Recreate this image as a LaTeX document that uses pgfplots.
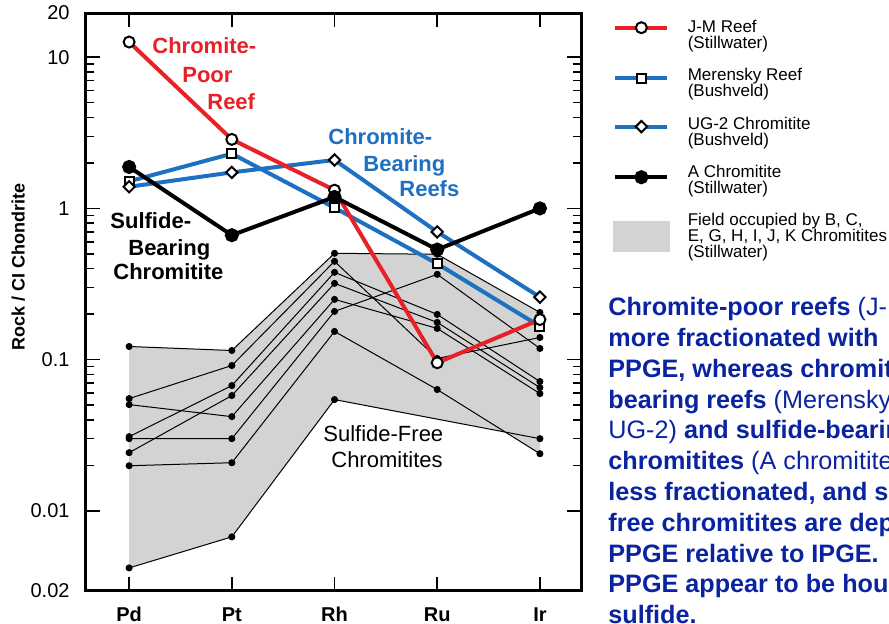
\documentclass[border=0pt]{standalone}
\usepackage{pgfplots}
\pgfplotsset{compat=1.18}
\usepackage{fontspec}
\setmainfont{Liberation Sans}

\definecolor{jmred}{RGB}{232,32,40}
\definecolor{bvblue}{RGB}{30,112,192}
\definecolor{fieldgray}{RGB}{211,211,211}
\definecolor{noteblue}{RGB}{10,35,160}

\pgfplotsset{
  legline/.style={legend image code/.code={%
    \draw[mark repeat=2,mark phase=2,##1] plot coordinates {(0pt,#1) (13pt,#1) (26pt,#1)};}},
  fieldline/.style={black, line width=0.5pt, mark=*, mark size=1.5pt, forget plot},
  openmark/.style={mark options={fill=white, draw=black, line width=1pt, solid}},
  opendiamond/.style={mark options={fill=white, draw=black, line width=1pt, solid, rotate=45}},
}

\begin{document}
\begin{tikzpicture}
\begin{axis}[
  scale only axis, width=247.5pt, height=289pt,
  ymode=log, ymin=0.00295, ymax=19.6,
  xmin=-0.42, xmax=4.4,
  xtick={0,1,2,3,4}, xticklabels={Pd,Pt,Rh,Ru,Ir},
  ytick={0.01,0.1,1,10}, yticklabels={0.01,0.1,1,10},
  extra y ticks={0.00295,19.6}, extra y tick labels={0.02,20},
  extra y tick style={major tick length=0pt},
  tick align=inside,
  major tick length=7pt, minor tick length=4pt,
  tick style={black, line width=0.75pt},
  axis line style={line width=1.5pt},
  x tick label style={font=\bfseries\fontsize{10}{12}\selectfont, yshift=-4.7pt},
  y tick label style={font=\fontsize{10}{12}\selectfont, xshift=-4.7pt},
  ylabel={Rock / CI Chondrite},
  ylabel style={font=\bfseries\fontsize{9}{11}\selectfont, at={(axis description cs:-0.137,0.56)}, anchor=center},
  clip=false,
  legend style={at={(1.0646,0.9943)}, anchor=north west, draw=none, fill=none,
    inner sep=0pt, outer sep=0pt, row sep=4.5pt, column sep=7pt,
    font=\fontsize{8.5}{8}\selectfont, cells={anchor=north west, align=left}},
]

% field of B, C, E, G, H, I, J, K chromitites
\addplot[fill=fieldgray, draw=none, forget plot] coordinates {
  (0,0.1221) (1,0.1149) (2,0.5049) (3,0.4972) (4,0.2051)
  (4,0.02386) (3.663,0.03318) (3,0.04040) (2,0.05440) (1,0.006727) (0,0.004192)};

\addplot[fieldline] coordinates {(0,0.1221) (1,0.1149) (2,0.5049) (3,0.4972) (4,0.2051)};
\addplot[fieldline] coordinates {(0,0.05524) (1,0.09140) (2,0.4467) (3,0.1017) (4,0.1401)};
\addplot[fieldline] coordinates {(0,0.03094) (1,0.06737) (2,0.3778) (3,0.1990) (4,0.07160)};
\addplot[fieldline] coordinates {(0,0.02424) (1,0.05783) (2,0.3194) (3,0.1762) (4,0.06534)};
\addplot[fieldline] coordinates {(0,0.05041) (1,0.04196) (2,0.2502) (3,0.1608) (4,0.05962)};
\addplot[fieldline] coordinates {(0,0.03000) (1,0.03000) (2,0.2084) (3,0.3664) (4,0.1185)};
\addplot[fieldline] coordinates {(0,0.01987) (1,0.02080) (2,0.1536) (3,0.06338) (4,0.02386)};
\addplot[fieldline] coordinates {(0,0.004192) (1,0.006727) (2,0.05440) (4,0.03000)};

% Merensky Reef
\addplot[bvblue, line width=2pt, mark=square*, mark size=2.25pt, openmark, forget plot]
  coordinates {(0,1.51) (1,2.30) (2,1.01) (3,0.431) (4,0.166)};
% UG-2 Chromitite
\addplot[bvblue, line width=2pt, mark=square*, mark size=2pt, opendiamond, forget plot]
  coordinates {(0,1.39) (1,1.73) (2,2.09) (3,0.699) (4,0.259)};
% J-M Reef
\addplot[jmred, line width=2pt, mark=*, mark size=2.75pt, openmark, forget plot]
  coordinates {(0,12.6) (1,2.86) (2,1.32) (3,0.0953) (4,0.184)};
% A Chromitite
\addplot[black, line width=2pt, mark=*, mark size=2.5pt, forget plot]
  coordinates {(0,1.88) (1,0.665) (2,1.19) (3,0.534) (4,1.00)};

\addlegendimage{jmred, line width=2pt, mark=*, mark size=2.75pt, openmark, legline=-5.7pt}
\addlegendentry{J-M Reef\\(Stillwater)}
\addlegendimage{bvblue, line width=2pt, mark=square*, mark size=2.25pt, openmark, legline=-6.7pt}
\addlegendentry{Merensky Reef\\(Bushveld)}
\addlegendimage{bvblue, line width=2pt, mark=square*, mark size=2pt, opendiamond, legline=-6.85pt}
\addlegendentry{UG-2 Chromitite\\(Bushveld)}
\addlegendimage{black, line width=2pt, mark=*, mark size=2.5pt, legline=-8pt}
\addlegendentry{A Chromitite\\(Stillwater)}
\addlegendimage{legend image code/.code={\fill[fieldgray] (-1pt,-5.85pt) rectangle (27pt,-20.85pt);}}
\addlegendentry{Field occupied by B, C,\\E, G, H, I, J, K Chromitites\\(Stillwater)}

\begin{scope}[every node/.style={inner sep=0pt, anchor=base west}]
\node[text=jmred, font=\bfseries\fontsize{11}{13}\selectfont] at (rel axis cs:0.1333,0.9291) {Chromite-};
\node[text=jmred, font=\bfseries\fontsize{11}{13}\selectfont] at (rel axis cs:0.1939,0.8806) {Poor};
\node[text=jmred, font=\bfseries\fontsize{11}{13}\selectfont] at (rel axis cs:0.2444,0.8339) {Reef};
\node[text=bvblue, font=\bfseries\fontsize{11}{13}\selectfont] at (rel axis cs:0.4889,0.7728) {Chromite-};
\node[text=bvblue, font=\bfseries\fontsize{11}{13}\selectfont] at (rel axis cs:0.5596,0.7266) {Bearing};
\node[text=bvblue, font=\bfseries\fontsize{11}{13}\selectfont] at (rel axis cs:0.6323,0.6817) {Reefs};
\node[font=\bfseries\fontsize{11}{13}\selectfont] at (rel axis cs:0.0485,0.6263) {Sulfide-};
\node[font=\bfseries\fontsize{11}{13}\selectfont] at (rel axis cs:0.0848,0.5813) {Bearing};
\node[font=\bfseries\fontsize{11}{13}\selectfont] at (rel axis cs:0.0545,0.5381) {Chromitite};
\node[font=\fontsize{11}{13}\selectfont] at (rel axis cs:0.4788,0.2595) {Sulfide-Free};
\node[font=\fontsize{11}{13}\selectfont] at (rel axis cs:0.4949,0.2145) {Chromitites};
\end{scope}
\end{axis}

\node[anchor=north west, align=left, inner sep=0pt, text=noteblue,
  font=\fontsize{12.6}{15.4}\selectfont] at (261pt,147pt) {%
  \textbf{Chromite-poor reefs} (J-M Reef) \textbf{are}\\
  \textbf{more fractionated with\ \ respect to}\\
  \textbf{PPGE, whereas chromite-}\\
  \textbf{bearing reefs} (Merensky and\\
  UG-2) \textbf{and sulfide-bearing}\\
  \textbf{chromitites} (A chromitite) \textbf{are}\\
  \textbf{less fractionated, and sulfide-}\\
  \textbf{free chromitites are depleted in}\\
  \textbf{PPGE relative to IPGE.\ \ The}\\
  \textbf{PPGE appear to be housed in}\\
  \textbf{sulfide.}};

\pgfresetboundingbox
\useasboundingbox (-43pt,-16.5pt) rectangle (401.5pt,295.5pt);
\end{tikzpicture}
\end{document}
